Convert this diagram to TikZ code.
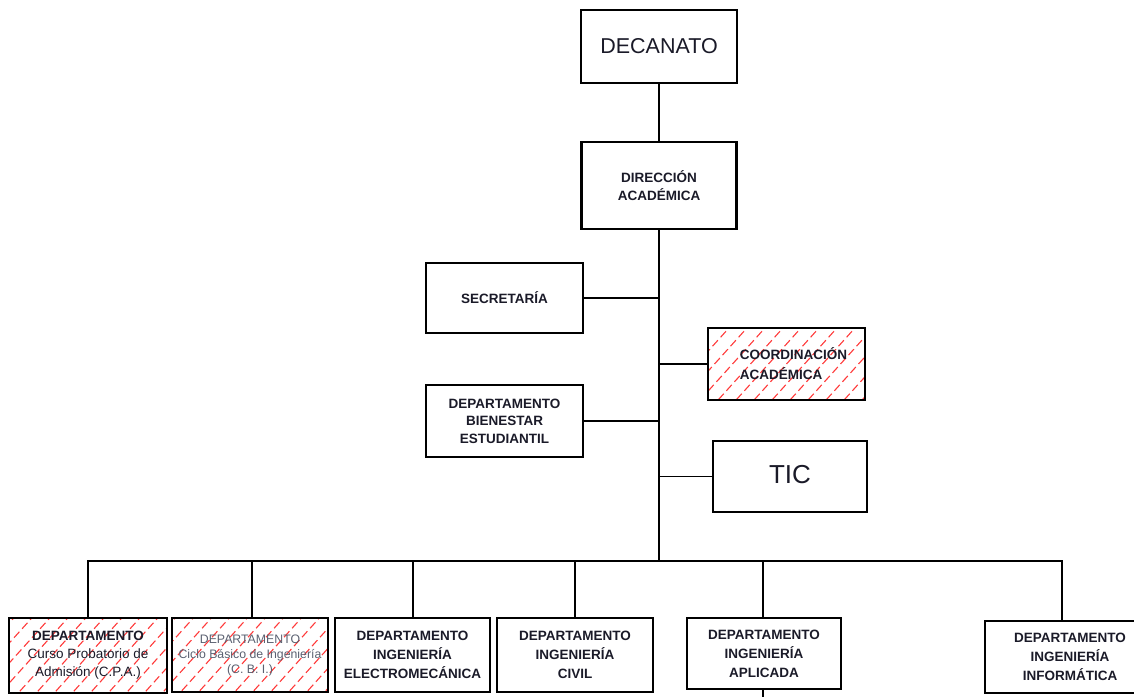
\documentclass[tikz,border=0pt]{standalone}
\usepackage{fontspec}
\setmainfont{Liberation Sans}
\definecolor{txt}{HTML}{1A1A28}
\definecolor{hatchred}{HTML}{FF3A3A}
\definecolor{greytxt}{HTML}{5A6070}
\begin{document}
\begin{tikzpicture}[x=1pt,y=-1pt,
  box/.style={draw, line width=2.3pt, rectangle, inner sep=0pt, align=center,
    font=\bfseries\fontsize{13.5}{19}\selectfont, text=txt},
  conn/.style={line width=1.9pt},
  hatchline/.style={draw=hatchred, line width=1.1pt, dash pattern=on 8pt off 4pt},
  hatched/.style={path picture={\foreach \k in {-12,...,12}{\draw[hatchline] ([xshift=\k*18pt]path picture bounding box.center) ++(228:120pt) -- ++(48:240pt);}}}
]
\useasboundingbox (0,0) rectangle (1134,696);
\clip (0,0) rectangle (1134,696);

\node[box, minimum width=156pt, minimum height=73pt, font=\fontsize{21.5}{24}\selectfont] (dec) at (659,46.5) {\raisebox{-4pt}{DECANATO}};
\node[box, minimum width=155pt, minimum height=87pt, font=\bfseries\fontsize{13.5}{18}\selectfont] (dir) at (659,185.5) {DIRECCIÓN\\ACADÉMICA};
\node[box, minimum width=157pt, minimum height=70pt] (sec) at (504.5,298) {SECRETARÍA};
\node[box, hatched, minimum width=157pt, minimum height=72pt, align=left, font=\bfseries\fontsize{13.5}{20}\selectfont] (coord) at (786.5,364) {\hspace*{14pt}COORDINACIÓN\\\hspace*{14pt}ACADÉMICA};
\node[box, minimum width=157pt, minimum height=72pt, font=\bfseries\fontsize{13.5}{17.5}\selectfont] (bien) at (504.5,421) {DEPARTAMENTO\\BIENESTAR\\ESTUDIANTIL};
\node[box, minimum width=154pt, minimum height=71pt, font=\fontsize{26}{28}\selectfont] (tic) at (790,476.5) {\raisebox{5pt}{TIC}};

\node[box, hatched, minimum width=158pt, minimum height=75pt, font=\bfseries\fontsize{13.5}{18}\selectfont] (b1) at (88,655.5) {DEPARTAMENTO\\{\mdseries Curso Probatorio de}\\{\mdseries Admisión (C.P.A.)}};
\node[box, hatched, minimum width=156pt, minimum height=74pt, font=\fontsize{12.3}{15}\selectfont, text=greytxt] (b2) at (250,655) {DEPARTAMENTO\\Ciclo Básico de Ingeniería\\(C. B. I.)};
\node[box, minimum width=155pt, minimum height=74pt] (b3) at (412.5,655) {DEPARTAMENTO\\INGENIERÍA\\ELECTROMECÁNICA};
\node[box, minimum width=156pt, minimum height=74pt] (b4) at (575,655) {DEPARTAMENTO\\INGENIERÍA\\CIVIL};
\node[box, minimum width=154pt, minimum height=71pt] (b5) at (764,653.5) {DEPARTAMENTO\\INGENIERÍA\\APLICADA};
\node[box, minimum width=170pt, minimum height=72pt] (b6) at (1070,657) {DEPARTAMENTO\\INGENIERÍA\\INFORMÁTICA};

\coordinate (bus) at (659,561);
\coordinate (j1) at (88,561);
\coordinate (j2) at (252,561);
\coordinate (j3) at (413,561);
\coordinate (j4) at (575,561);
\coordinate (j5) at (763,561);
\coordinate (j6) at (1062,561);
\coordinate (tail) at (763,702);

\draw[conn] (dec.south) -- (dir.north);
\draw[conn] (dir.south) -- (bus);
\draw[conn] (sec.east) -- (sec.east -| bus);
\draw[conn] (coord.west) -- (coord.west -| bus);
\draw[conn] (bien.east) -- (bien.east -| bus);
\draw[conn] (tic.west) -- (tic.west -| bus);
\draw[conn] (j1 |- b1.north) -- (j1) -- (j6) -- (j6 |- b6.north);
\draw[conn] (j2) -- (j2 |- b2.north);
\draw[conn] (j3) -- (j3 |- b3.north);
\draw[conn] (j4) -- (j4 |- b4.north);
\draw[conn] (j5) -- (j5 |- b5.north);
\draw[conn] (j5 |- b5.south) -- (tail);
\end{tikzpicture}
\end{document}
